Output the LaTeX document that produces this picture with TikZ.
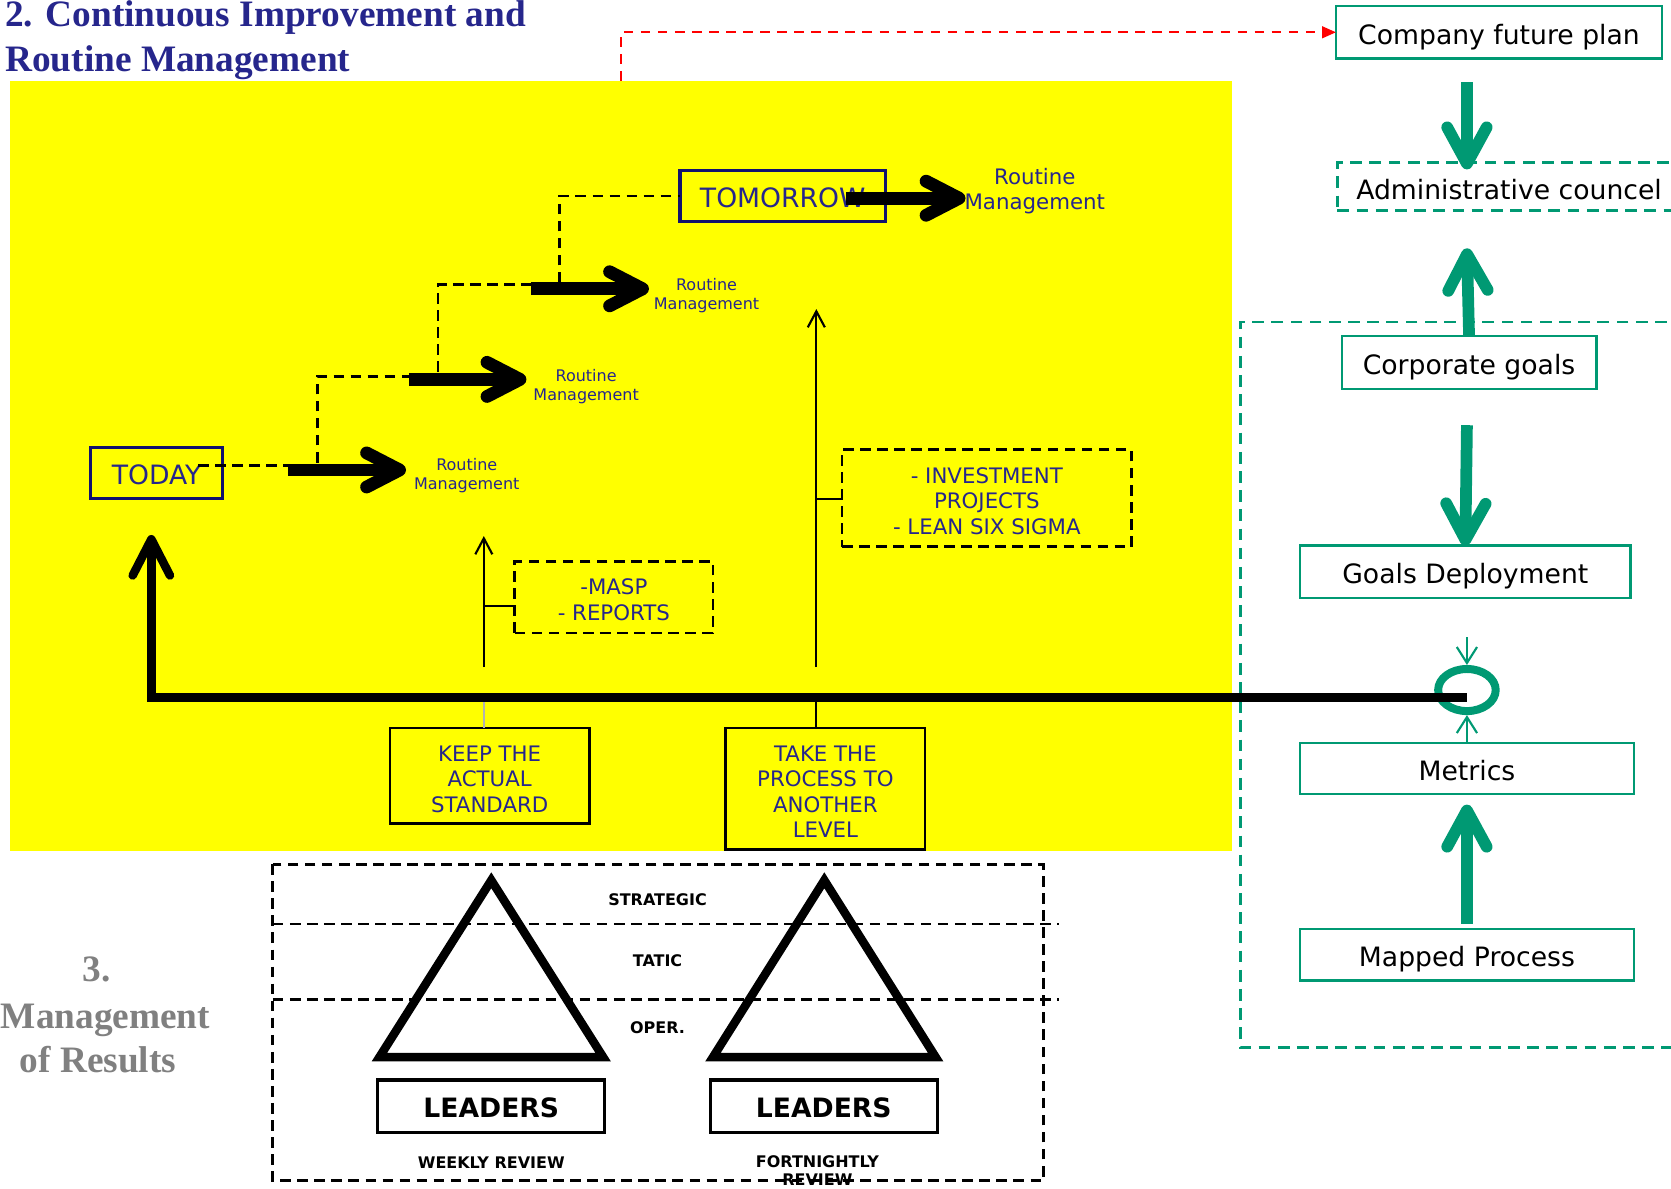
\documentclass[tikz,border=0pt]{standalone}
\usepackage{fontspec}
\setmainfont{DejaVu Sans}
\newfontfamily\titlefont{Liberation Serif}
\usetikzlibrary{arrows.meta,shapes.geometric}

\definecolor{inkblue}{RGB}{38,38,140}
\definecolor{frameblue}{RGB}{18,18,110}
\definecolor{goalgreen}{RGB}{0,153,115}
\definecolor{resultgray}{RGB}{128,128,128}
\definecolor{cmyellow}{RGB}{255,255,0}

\newcommand{\fsz}[2]{\fontsize{#1}{#2}\selectfont}

\tikzset{
  every node/.style={inner sep=0pt, outer sep=0pt},
  heading/.style={font=\titlefont\bfseries\fsz{35}{42}, text=inkblue, anchor=base west},
  resultsheading/.style={font=\titlefont\bfseries\fsz{35}{42}, text=resultgray, anchor=base},
  daybox/.style={draw=frameblue, line width=3pt, text=inkblue, font=\fsz{25}{30}, minimum height=48pt, text height=22pt, text depth=0pt},
  routinelabel/.style={text=inkblue, align=center, font=\fsz{15}{18}},
  stepline/.style={draw=black, line width=2.5pt, dash pattern=on 10pt off 6pt},
  steparrow/.style={draw=black, line width=12pt, -{Straight Barb[length=31pt,width=32pt,round]}},
  thinarrow/.style={draw=black, line width=2pt, -{Straight Barb[length=15pt,width=16pt]}},
  actionbox/.style={draw=black, line width=2.5pt},
  toolbox/.style={draw=black, line width=2.5pt, dash pattern=on 10pt off 6pt},
  boxtext/.style={text=inkblue, align=center, font=\fsz{20}{24}},
  greenbox/.style={draw=goalgreen, line width=2.2pt, font=\fsz{25}{30}, text=black, text height=22.6pt, text depth=0pt},
  greenarrow/.style={draw=goalgreen, line width=11pt, -{Straight Barb[length=34pt,width=37pt,round]}},
  greenthin/.style={draw=goalgreen, line width=2pt, -{Straight Barb[length=15pt,width=19pt]}},
  greendash/.style={dash pattern=on 11pt off 7pt},
  reddash/.style={draw=red, line width=2pt, dash pattern=on 9pt off 7pt, -{Triangle[length=13pt,width=11pt]}},
  feedback/.style={draw=black, line width=8pt, -{Straight Barb[length=34pt,width=35pt,round]}},
  levelline/.style={draw=black, line width=2.5pt, dash pattern=on 10pt off 6pt},
  pyramid/.style={draw=black, line width=8pt, line join=miter},
  leadersbox/.style={draw=black, line width=3pt, font=\bfseries\fsz{25}{30}, minimum width=213pt, minimum height=49pt, text height=21pt, text depth=0pt},
  levellabel/.style={font=\bfseries\fsz{15}{17}, align=center}
}

\begin{document}
\begin{tikzpicture}[x=1pt,y=-1pt]
\useasboundingbox (0,0) rectangle (1568,1115);

% continuous improvement area
\fill[cmyellow] (9,76) rectangle (1156,799);

% headings
\node[heading] (title1) at (5,25) {2. Continuous Improvement and};
\node[heading] (title2) at (5,67) {Routine Management};
\node[resultsheading] (res1) at (91,921) {3.};
\node[resultsheading] (res2) at (99,965) {Management};
\node[resultsheading] (res3) at (92,1006) {of Results};

% today and tomorrow
\node[daybox, minimum width=124pt] (today) at (147,444) {TODAY};
\node[daybox, minimum width=193pt] (tomorrow) at (734.5,184) {TOMORROW};

% routine management labels
\node[routinelabel] (rm1) at (438,446.5) {Routine\\Management};
\node[routinelabel] (rm2) at (550,362.5) {Routine\\Management};
\node[routinelabel] (rm3) at (663,277.5) {Routine\\Management};
\node[routinelabel, font=\fsz{20}{24}] (rm4) at (971,179.5) {Routine\\Management};

% staircase of improvement steps
\coordinate (s1a) at (270,441); \coordinate (s1b) at (381,441);
\coordinate (s2a) at (384,356); \coordinate (s2b) at (494,356);
\coordinate (s3a) at (498,271); \coordinate (s3b) at (609,271);
\coordinate (s4a) at (794,186); \coordinate (s4b) at (906,186);

\coordinate (d0) at (186,437); \coordinate (d1) at (270,437);
\coordinate (u1) at (298,434); \coordinate (c1) at (384,353);
\coordinate (u2) at (411,349); \coordinate (c2) at (498,267);
\coordinate (u3) at (525,265);
\draw[stepline] (d0) -- (d1);
\draw[stepline] (u1) |- (c1);
\draw[stepline] (u2) |- (c2);
\draw[stepline] (u3) |- (tomorrow.west);

\draw[steparrow] (s1a) -- (s1b);
\draw[steparrow] (s2a) -- (s2b);
\draw[steparrow] (s3a) -- (s3b);
\draw[steparrow] (s4a) -- (s4b);

% improvement tools
\node[toolbox, minimum width=186pt, minimum height=67pt] (masp) at (576,560.5) {};
\node[boxtext] (masptext) at ([yshift=-2.5pt]masp.center) {-MASP\\- REPORTS};
\node[toolbox, minimum width=272pt, minimum height=91pt] (invest) at (926,467.5) {};
\node[boxtext] (investtext) at ([yshift=-2.5pt]invest.center) {- INVESTMENT\\PROJECTS\\- LEAN SIX SIGMA};

\coordinate (up1a) at (454,626); \coordinate (up1b) at (454,503);
\coordinate (up2a) at (766,626); \coordinate (up2b) at (766,290);
\coordinate (t1) at (454,569); \coordinate (t2) at (766,468);
\draw[thinarrow] (up1a) -- (up1b);
\draw[thinarrow] (up2a) -- (up2b);
\draw[line width=2pt] (t1) -- (t1 -| masp.west);
\draw[line width=2pt] (t2) -- (t2 -| invest.west);

% the two paths of action
\node[actionbox, minimum width=187pt, minimum height=90pt] (keep) at (459.5,728) {};
\node[boxtext] (keeptext) at ([yshift=-3pt]keep.center) {KEEP THE\\ACTUAL\\STANDARD};
\node[actionbox, minimum width=187pt, minimum height=114pt] (take) at (774.5,740) {};
\node[boxtext] (taketext) at ([yshift=-3pt]take.center) {TAKE THE\\PROCESS TO\\ANOTHER\\LEVEL};
\coordinate (j1) at (454,655); \coordinate (j2) at (766,655);
\draw[black!30, line width=2pt] (j1) -- (j1 |- keep.north);
\draw[line width=2pt] (j2) -- (j2 |- take.north);

% goals column
\draw[goalgreen, line width=2.2pt, greendash] (1600,302) -- (1164,302) -- (1164,983) -- (1600,983);
\node[greenbox, minimum width=306pt, minimum height=49pt] (plan) at (1406.6,30.3) {Company future plan};
\node[greenbox, greendash, minimum width=322pt, minimum height=45pt, text height=25pt] (council) at (1416,175) {Administrative councel};
\node[greenbox, minimum width=239pt, minimum height=50pt] (corp) at (1378.5,340) {Corporate goals};
\node[greenbox, minimum width=310pt, minimum height=49pt] (deploy) at (1375,536.5) {Goals Deployment};
\node[greenbox, minimum width=313pt, minimum height=48pt] (metrics) at (1376.5,721) {Metrics};
\node[greenbox, minimum width=313pt, minimum height=48pt] (mapped) at (1376.5,896) {Mapped Process};
\node[draw=goalgreen, line width=7.5pt, ellipse, outer sep=3.75pt, minimum width=54pt, minimum height=39.5pt] (loop) at (1376.5,647.5) {};

\coordinate (g1a) at (1376.5,77);  \coordinate (g1b) at (1376.5,159);
\coordinate (g2b) at (1376.5,233);
\coordinate (g3a) at (1376.5,399);
\coordinate (g4a) at (1376.5,867); \coordinate (g4b) at (1376.5,755);
\coordinate (g5a) at (1376.5,598);
\draw[greenarrow] (g1a) -- (g1b);
\draw[greenarrow] (corp.north) -- (g2b);
\draw[greenarrow] (g3a) -- (deploy.north);
\draw[greenarrow] (g4a) -- (g4b);
\draw[greenthin] (g5a) -- (loop.north);
\draw[greenthin] (metrics.north) -- (loop.south);

% link to the company plan
\coordinate (r0) at (583,76);
\draw[reddash] (r0) |- (plan.west);

% feedback from the metrics loop back to today
\coordinate (todaytip) at (142,502);
\draw[feedback] ([yshift=-7pt]loop.center) -| (todaytip);

% management of results
\draw[levelline] (256,811) rectangle (979,1108);
\draw[levelline] (256,867) -- (994,867);
\draw[levelline] (256,938) -- (994,938);
\draw[pyramid] (461,826) -- (566,992) -- (356,992) -- cycle;
\draw[pyramid] (773.5,826) -- (878,992) -- (669,992) -- cycle;
\node[leadersbox] (lead1) at (461,1038) {LEADERS};
\node[leadersbox] (lead2) at (773,1038) {LEADERS};
\node[levellabel] (strat) at (617,844) {STRATEGIC};
\node[levellabel] (tatic) at (617,901) {TATIC};
\node[levellabel] (oper) at (617,964) {OPER.};
\node[levellabel] (weekly) at (461,1091) {WEEKLY REVIEW};
\node[levellabel] (fortnight) at (767,1098) {FORTNIGHTLY\\REVIEW};
\end{tikzpicture}
\end{document}
